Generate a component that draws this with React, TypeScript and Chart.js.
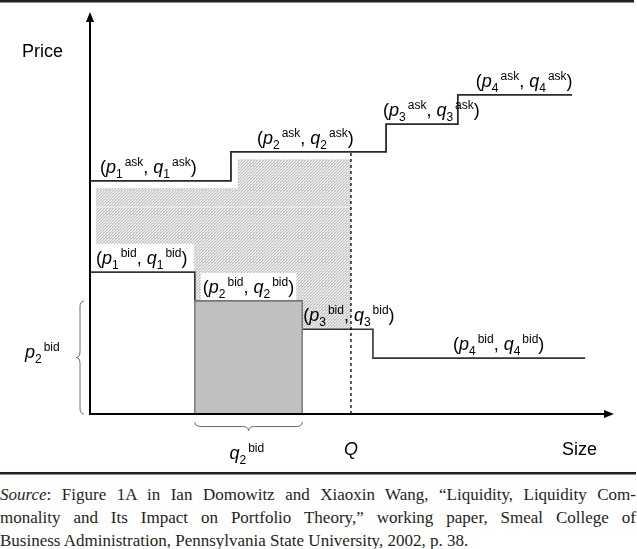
import React, { useEffect, useRef } from "react";
import { Chart, registerables } from "chart.js";

Chart.register(...registerables);

// ---- data (size units along x, price units along y) ----
const askEdges = [0, 26.9, 56.5, 70.2, 92.0];
const askPrices = [58.0, 65.2, 72.1, 79.4];
const bidEdges = [0, 20.0, 40.5, 54.0, 94.5];
const bidPrices = [35.3, 28.1, 21.1, 13.9];
const Q = 49.8;
const shadeEdges = [1.1, 28.2, Q];
const shadeTops = [56.2, 63.4];
const shadeLineY = 51.5;
const levelNames = ["1", "2", "3", "4"];

const captionLines = [
  "Figure 1A in Ian Domowitz and Xiaoxin Wang, \u201cLiquidity, Liquidity Com-",
  "monality and Its Impact on Portfolio Theory,\u201d working paper, Smeal College of",
  "Business Administration, Pennsylvania State University, 2002, p. 38.",
];

// label layout (pixel offsets from the step start)
const askLabelDx = [10, 26, -3, 18];
const bidLabelDx = [6, 8, 1, 80];
const labelDy = -8;

const SANS = '"Liberation Sans", Arial, Helvetica, sans-serif';
const INK = "#231f20";

function stepPoints(edges: number[], prices: number[]) {
  const pts: { x: number; y: number }[] = [];
  for (let i = 0; i < prices.length; i++) {
    pts.push({ x: edges[i], y: prices[i] });
    pts.push({ x: edges[i + 1], y: prices[i] });
  }
  return pts;
}

type Seg = { t: string; it?: boolean; sub?: boolean; sup?: boolean };

function pairSegs(i: string, kind: string): Seg[] {
  return [
    { t: "(" },
    { t: "p", it: true },
    { t: i, sub: true },
    { t: kind, sup: true },
    { t: ", " },
    { t: "q", it: true },
    { t: i, sub: true },
    { t: kind, sup: true },
    { t: ")" },
  ];
}

function measureRich(ctx: CanvasRenderingContext2D, segs: Seg[]) {
  let w = 0;
  for (const s of segs) {
    const small = s.sub || s.sup;
    ctx.font = `${s.it ? "italic " : ""}${small ? 12 : 18}px ${SANS}`;
    w += ctx.measureText(s.t).width + (s.sub ? 2 : 0);
  }
  return w;
}

function drawRich(ctx: CanvasRenderingContext2D, segs: Seg[], x: number, y: number) {
  let cx = x;
  ctx.textBaseline = "alphabetic";
  ctx.textAlign = "left";
  ctx.fillStyle = "#000";
  for (const s of segs) {
    const small = s.sub || s.sup;
    ctx.font = `${s.it ? "italic " : ""}${small ? 12 : 18}px ${SANS}`;
    const dy = s.sub ? 5 : s.sup ? -7 : 0;
    ctx.fillText(s.t, cx, y + dy);
    cx += ctx.measureText(s.t).width + (s.sub ? 2 : 0);
  }
}

function brace(ctx: CanvasRenderingContext2D, x1: number, y1: number, x2: number, y2: number, h: number, r: number) {
  const len = Math.hypot(x2 - x1, y2 - y1);
  const ux = (x2 - x1) / len, uy = (y2 - y1) / len;
  const nx = -uy, ny = ux;
  const P = (s: number, d: number): [number, number] => [x1 + ux * s + nx * d, y1 + uy * s + ny * d];
  const m = h * 0.5;
  ctx.beginPath();
  ctx.moveTo(...P(0, 0));
  ctx.quadraticCurveTo(...P(0, m), ...P(r, m));
  ctx.lineTo(...P(len / 2 - r, m));
  ctx.quadraticCurveTo(...P(len / 2, m), ...P(len / 2, h));
  ctx.quadraticCurveTo(...P(len / 2, m), ...P(len / 2 + r, m));
  ctx.lineTo(...P(len - r, m));
  ctx.quadraticCurveTo(...P(len, m), ...P(len, 0));
  ctx.stroke();
}

const diagramPlugin = {
  id: "diagram",
  beforeDraw(chart: any) {
    const ctx: CanvasRenderingContext2D = chart.ctx;
    ctx.save();
    ctx.fillStyle = "#fff";
    ctx.fillRect(0, 0, chart.width, chart.height);
    ctx.restore();
  },
  afterDatasetsDraw(chart: any) {
    const ctx: CanvasRenderingContext2D = chart.ctx;
    const xs = chart.scales.x, ys = chart.scales.y;
    const X = (v: number) => xs.getPixelForValue(v);
    const Y = (v: number) => ys.getPixelForValue(v);
    const x0 = X(0), y0 = Y(0);
    ctx.save();

    // frame rules
    ctx.fillStyle = INK;
    ctx.fillRect(0, 0, 634, 2.5);
    ctx.fillRect(0, 472, 636, 2.5);

    // axes with arrows
    ctx.strokeStyle = "#000";
    ctx.fillStyle = "#000";
    ctx.lineWidth = 2;
    ctx.beginPath();
    ctx.moveTo(x0, y0 + 1);
    ctx.lineTo(x0, chart.chartArea.top + 8);
    ctx.moveTo(x0 - 1, y0);
    ctx.lineTo(chart.chartArea.right - 8, y0);
    ctx.stroke();
    ctx.beginPath();
    ctx.moveTo(x0, chart.chartArea.top);
    ctx.lineTo(x0 - 4, chart.chartArea.top + 10);
    ctx.lineTo(x0 + 4, chart.chartArea.top + 10);
    ctx.closePath();
    ctx.fill();
    ctx.beginPath();
    ctx.moveTo(chart.chartArea.right, y0);
    ctx.lineTo(chart.chartArea.right - 10, y0 - 4);
    ctx.lineTo(chart.chartArea.right - 10, y0 + 4);
    ctx.closePath();
    ctx.fill();

    // braces
    ctx.strokeStyle = "#6a6a6a";
    ctx.lineWidth = 1;
    brace(ctx, x0 - 6, Y(bidPrices[1]), x0 - 6, y0, 8, 6);
    brace(ctx, X(bidEdges[1]), y0 + 8, X(bidEdges[2]), y0 + 8, 9, 6);

    // labels
    for (let i = 0; i < askPrices.length; i++) {
      const segs = pairSegs(levelNames[i], "ask");
      drawRich(ctx, segs, X(askEdges[i]) + askLabelDx[i], Y(askPrices[i]) + labelDy);
    }
    for (let i = 0; i < bidPrices.length; i++) {
      const segs = pairSegs(levelNames[i], "bid");
      const lx = X(bidEdges[i]) + bidLabelDx[i];
      const ly = Y(bidPrices[i]) + labelDy;
      if (i === 0) {
        ctx.fillStyle = "#fff";
        ctx.fillRect(X(shadeEdges[0]), ly - 20, X(bidEdges[1]) - X(shadeEdges[0]) - 1, Y(bidPrices[0]) - ly + 19);
      } else if (i === 1) {
        const w = measureRich(ctx, segs);
        ctx.fillStyle = "#fff";
        ctx.fillRect(lx - 2, ly - 20, w + 4, Y(bidPrices[1]) - ly + 19);
      }
      drawRich(ctx, segs, lx, ly);
    }

    // brace labels
    drawRich(ctx, [{ t: "p", it: true }, { t: "2", sub: true }, { t: "bid", sup: true }], x0 - 65, (Y(bidPrices[1]) + y0) / 2);
    drawRich(ctx, [{ t: "q", it: true }, { t: "2", sub: true }, { t: "bid", sup: true }], (X(bidEdges[1]) + X(bidEdges[2])) / 2 - 19, y0 + 45);

    // axis titles
    ctx.fillStyle = "#000";
    ctx.font = `18px ${SANS}`;
    ctx.textAlign = "left";
    ctx.textBaseline = "alphabetic";
    ctx.fillText("Price", x0 - 68, 57);
    ctx.textAlign = "right";
    ctx.fillText("Size", 597, y0 + 41);
    ctx.textAlign = "center";
    ctx.font = `italic 18px ${SANS}`;
    ctx.fillText("Q", X(Q), y0 + 41);
    ctx.restore();
  },
};

export default function App() {
  const ref = useRef<HTMLCanvasElement | null>(null);

  useEffect(() => {
    const canvas = ref.current;
    if (!canvas) return;
    const ctx = canvas.getContext("2d")!;

    const pc = document.createElement("canvas");
    pc.width = 3;
    pc.height = 3;
    const g = pc.getContext("2d")!;
    g.fillStyle = "#ececec";
    g.fillRect(0, 0, 3, 3);
    g.fillStyle = "#bcbcbc";
    g.fillRect(0, 0, 1, 1);
    g.fillRect(1, 2, 1, 1);
    g.fillRect(2, 1, 1, 1);
    g.fillStyle = "#d6d6d6";
    g.fillRect(1, 1, 1, 1);
    const pattern = ctx.createPattern(pc, "repeat")!;

    const shadeTop = [
      { x: shadeEdges[0], y: shadeTops[0] },
      { x: shadeEdges[1], y: shadeTops[0] },
      { x: shadeEdges[1], y: shadeTops[1] },
      { x: shadeEdges[2], y: shadeTops[1] },
    ];
    const shadeBottom = stepPoints(bidEdges, bidPrices).filter((p) => p.x <= Q);
    shadeBottom[0] = { x: shadeEdges[0], y: bidPrices[0] };
    shadeBottom.push({ x: Q, y: bidPrices[2] });

    const chart = new Chart(ctx, {
      type: "line",
      data: {
        datasets: [
          {
            label: "shade",
            data: shadeTop,
            borderWidth: 0,
            borderColor: "rgba(0,0,0,0)",
            backgroundColor: pattern as any,
            fill: "+1",
            order: 10,
          },
          {
            label: "shadeBase",
            data: shadeBottom,
            borderWidth: 0,
            borderColor: "rgba(0,0,0,0)",
            fill: false,
            order: 11,
          },
          {
            label: "shadeRule",
            data: [
              { x: shadeEdges[0], y: shadeLineY },
              { x: Q, y: shadeLineY },
            ],
            borderWidth: 1.5,
            borderColor: "#ececec",
            fill: false,
            order: 9,
          },
          {
            label: "bid",
            data: stepPoints(bidEdges, bidPrices),
            borderWidth: 1.6,
            borderColor: "#333",
            fill: false,
            order: 5,
          },
          {
            label: "bid2 block",
            data: [
              { x: bidEdges[1], y: 0 },
              { x: bidEdges[1], y: bidPrices[1] },
              { x: bidEdges[2], y: bidPrices[1] },
              { x: bidEdges[2], y: 0 },
            ],
            borderWidth: 1.5,
            borderColor: "#7a7a7a",
            backgroundColor: "#c0c0c0",
            fill: "origin",
            order: 4,
          },
          {
            label: "Q",
            data: [
              { x: Q, y: 0 },
              { x: Q, y: askPrices[1] },
            ],
            borderWidth: 1.3,
            borderColor: "#000",
            borderDash: [3, 3],
            fill: false,
            order: 3,
          },
          {
            label: "ask",
            data: stepPoints(askEdges, askPrices),
            borderWidth: 1.8,
            borderColor: "#2a2a2a",
            fill: false,
            order: 1,
          },
        ],
      },
      options: {
        responsive: false,
        animation: false,
        events: [],
        layout: { padding: { left: 90, right: 23, top: 12, bottom: 62 } },
        plugins: {
          legend: { display: false },
          tooltip: { enabled: false },
        },
        elements: { point: { radius: 0 }, line: { tension: 0 } },
        scales: {
          x: { type: "linear", min: 0, max: 100, display: false },
          y: { type: "linear", min: 0, max: 100, display: false },
        },
      },
      plugins: [diagramPlugin],
    } as any);

    return () => chart.destroy();
  }, []);

  const lineStyle: React.CSSProperties = {
    textAlign: "justify",
    textAlignLast: "justify" as any,
  };

  return (
    <div
      style={{
        position: "absolute",
        left: 0,
        top: 0,
        width: 637,
        height: 549,
        background: "#fff",
        overflow: "hidden",
      }}
    >
      <canvas ref={ref} width={637} height={476} style={{ display: "block", width: 637, height: 476 }} />
      <div
        style={{
          position: "absolute",
          left: 0,
          top: 483,
          width: 636,
          fontFamily: '"Liberation Serif", "DejaVu Serif", serif',
          fontSize: 17,
          lineHeight: "23px",
          color: INK,
        }}
      >
        <div style={lineStyle}>
          <i>Source</i>: {captionLines[0]}
        </div>
        <div style={lineStyle}>{captionLines[1]}</div>
        <div style={{ whiteSpace: "nowrap" }}>{captionLines[2]}</div>
      </div>
    </div>
  );
}
